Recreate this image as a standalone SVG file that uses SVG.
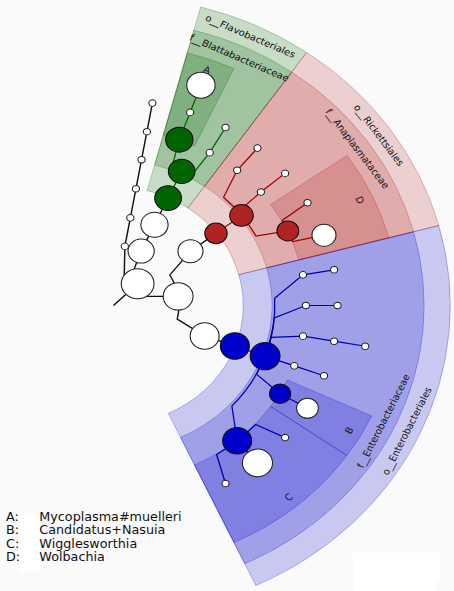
<svg xmlns="http://www.w3.org/2000/svg" width="454" height="591" viewBox="0 0 454 591">
<style>
.bg{fill:#fafafa}
.sg{fill:#006400;fill-opacity:.2;stroke:#006400;stroke-opacity:.3;stroke-width:.8}
.sr{fill:#b22222;fill-opacity:.2;stroke:#b22222;stroke-opacity:.35;stroke-width:.8}
.sb{fill:#0000cd;fill-opacity:.2;stroke:#0000cd;stroke-opacity:.3;stroke-width:.8}
.e{fill:none;stroke:#111;stroke-width:1.3}
.eg{fill:none;stroke:#006400;stroke-width:1.2}
.er{fill:none;stroke:#a00000;stroke-width:1.2}
.eb{fill:none;stroke:#0000b0;stroke-width:1.2}
.nw{fill:#fff;stroke:#222;stroke-width:1}
.ng{fill:#006400;stroke:#111;stroke-width:1}
.nr{fill:#b22222;stroke:#111;stroke-width:1}
.nb{fill:#0000cd;stroke:#111;stroke-width:1}
.lab{font-family:"DejaVu Sans",sans-serif;font-size:9.2px;fill:#111;text-anchor:middle}
.leg{font-family:"DejaVu Sans",sans-serif;font-size:11.7px;fill:#111}
</style>
<rect class="bg" x="0" y="0" width="454" height="591"/>
<path d="M352.7 552.7H440V581.7H436V591H352.7Z" fill="#fff"/>
<rect x="18" y="513" width="22" height="59" fill="#fff"/>
<g transform="matrix(1.09 0 0 1 113.5 305.5)">
<g id="shading">
<path class="sg" d="M79.98 -298.47A309 309 0 0 1 177.24 -253.12L68.26 -97.48A119 119 0 0 0 30.80 -114.95Z"/>
<path class="sr" d="M177.24 -253.12A309 309 0 0 1 298.47 -79.98L114.95 -30.80A119 119 0 0 0 68.26 -97.48Z"/>
<path class="sb" d="M298.47 -79.98A309 309 0 0 1 130.59 280.05L50.29 107.85A119 119 0 0 0 114.95 -30.80Z"/>
<path class="sg" d="M73.76 -275.29A285 285 0 0 1 163.47 -233.46L83.46 -119.19A145.5 145.5 0 0 0 37.66 -140.54Z"/>
<path class="sr" d="M163.47 -233.46A285 285 0 0 1 275.29 -73.76L140.54 -37.66A145.5 145.5 0 0 0 83.46 -119.19Z"/>
<path class="sb" d="M275.29 -73.76A285 285 0 0 1 120.45 258.30L61.49 131.87A145.5 145.5 0 0 0 140.54 -37.66Z"/>
<path class="sg" d="M67.68 -252.59A261.5 261.5 0 0 1 110.52 -237.00L74.38 -159.51A176 176 0 0 0 45.55 -170.00Z"/>
<path class="sr" d="M214.21 -149.99A261.5 261.5 0 0 1 252.59 -67.68L170.00 -45.55A176 176 0 0 0 144.17 -100.95Z"/>
<path class="sb" d="M237.00 110.52A261.5 261.5 0 0 1 214.21 149.99L144.17 100.95A176 176 0 0 0 159.51 74.38Z"/>
<path class="sb" d="M214.21 149.99A261.5 261.5 0 0 1 110.52 237.00L74.38 159.51A176 176 0 0 0 144.17 100.95Z"/>
</g>
<g id="labels">
<text class="lab" transform="translate(124.25 -266.46) rotate(25)">o__Flavobacteriales</text>
<text class="lab" transform="translate(114.11 -244.70) rotate(25)">f__Blattabacteriaceae</text>
<text class="lab" transform="translate(240.83 -168.63) rotate(55)">o__Rickettsiales</text>
<text class="lab" transform="translate(221.17 -154.87) rotate(55)">f__Anaplasmataceae</text>
<text class="lab" transform="translate(272.07 126.87) rotate(-65)">o__Enterobacteriales</text>
<text class="lab" transform="translate(250.59 116.85) rotate(-65)">f__Enterobacteriaceae</text>
<text class="lab" dominant-baseline="central" transform="translate(85.85 -235.86) rotate(20)">A</text>
<text class="lab" dominant-baseline="central" transform="translate(226.12 -105.44) rotate(65)">D</text>
<text class="lab" dominant-baseline="central" transform="translate(216.07 124.75) rotate(-60)">B</text>
<text class="lab" dominant-baseline="central" transform="translate(160.70 191.51) rotate(-40)">C</text>
</g>
<g id="connectors">
<path class="e" d="M0 0L22.15 -21.69"/>
<path class="e" d="M22.15 -21.69A31 31 0 0 0 9.84 -29.40L10.42 -59.09L35.69 -202.38"/>
<path class="e" d="M22.15 -21.69A31 31 0 0 0 15.5 -26.85L25.36 -54.38L50.08 -107.40"/>
<path class="e" d="M22.15 -21.69A31 31 0 0 1 29.60 -9.22L59.30 -9.13"/>
<path class="e" d="M59.30 -9.13A60 60 0 0 0 51.64 -30.54L70.61 -54.18L94.01 -72.14"/>
<path class="e" d="M59.30 -9.13A60 60 0 0 1 58.44 13.60L83.63 30.44L111.35 40.53"/>
<path class="eg" d="M50.08 -107.40L62.55 -134.13"/>
<path class="eg" d="M62.55 -134.13A148 148 0 0 0 53.52 -137.98L60.37 -165.86L70.29 -193.11L80.20 -220.36"/>
<path class="eg" d="M62.55 -134.13A148 148 0 0 1 71.30 -129.69L88.25 -152.85L102.75 -177.97"/>
<path class="er" d="M94.01 -72.14L117.42 -90.10"/>
<path class="er" d="M117.42 -90.10A148 148 0 0 0 100.94 -108.24L113.45 -135.21L132.09 -157.42"/>
<path class="er" d="M117.42 -90.10A148 148 0 0 0 114.36 -93.94L135.21 -113.45L157.42 -132.09"/>
<path class="er" d="M117.42 -90.10A148 148 0 0 1 130.68 -69.48L159.96 -74.59"/>
<path class="er" d="M159.96 -74.59A176.5 176.5 0 0 0 154.67 -85.03L177.97 -102.75"/>
<path class="er" d="M159.96 -74.59A176.5 176.5 0 0 1 164.55 -63.83L193.11 -70.29"/>
<path class="eb" d="M111.35 40.53L139.07 50.62"/>
<path class="eb" d="M139.07 50.62A148 148 0 0 0 147.82 -7.23L173.82 -30.65L202.38 -35.69"/>
<path class="eb" d="M139.07 50.62A148 148 0 0 0 147.48 12.38L176.5 0L205.5 0"/>
<path class="eb" d="M139.07 50.62A148 148 0 0 0 144.55 31.78L173.82 30.65L202.38 35.69L230.94 40.72"/>
<path class="eb" d="M139.07 50.62L165.86 60.37L193.11 70.29"/>
<path class="eb" d="M139.07 50.62A148 148 0 0 1 131.16 68.57L152.85 88.25L177.97 102.75"/>
<path class="eb" d="M139.07 50.62A148 148 0 0 1 108.59 100.56L113.45 135.21"/>
<path class="eb" d="M113.45 135.21A176.5 176.5 0 0 0 130.34 119.01L157.42 132.09"/>
<path class="eb" d="M113.45 135.21L132.09 157.42"/>
<path class="eb" d="M113.45 135.21A176.5 176.5 0 0 1 94.57 149.02L102.75 177.97"/>
</g>
<g id="n_root"><circle class="nw" cx="22.15" cy="-21.69" r="15"/></g>
<g id="n_chain">
<circle class="nw" cx="10.42" cy="-59.09" r="3.3"/>
<circle class="nw" cx="15.45" cy="-87.65" r="3.3"/>
<circle class="nw" cx="20.58" cy="-116.70" r="3.3"/>
<circle class="nw" cx="25.70" cy="-145.75" r="3.3"/>
<circle class="nw" cx="30.65" cy="-173.82" r="3.3"/>
<circle class="nw" cx="35.69" cy="-202.38" r="3.3"/>
</g>
<g id="n_a2"><circle class="nw" cx="25.36" cy="-54.38" r="12"/></g>
<g id="n_a1"><circle class="nw" cx="37.61" cy="-80.66" r="12.5"/></g>
<g id="n_a4"><circle class="nw" cx="59.30" cy="-9.13" r="13.7"/></g>
<g id="n_a5"><circle class="nw" cx="70.61" cy="-54.18" r="11.5"/></g>
<g id="n_a6"><circle class="nw" cx="83.63" cy="30.44" r="13.3"/></g>
<g id="n_g4"><circle class="ng" cx="50.08" cy="-107.40" r="12.3"/></g>
<g id="n_g5"><circle class="ng" cx="62.55" cy="-134.13" r="12.2"/></g>
<g id="n_g6"><circle class="ng" cx="60.37" cy="-165.86" r="12.5"/></g>
<g id="n_g7"><circle class="nw" cx="70.29" cy="-193.11" r="3.3"/></g>
<g id="n_A"><circle class="nw" cx="80.20" cy="-220.36" r="13"/></g>
<g id="n_g6b"><circle class="nw" cx="88.25" cy="-152.85" r="3.3"/></g>
<g id="n_g7b"><circle class="nw" cx="102.75" cy="-177.97" r="3.3"/></g>
<g id="n_r4"><circle class="nr" cx="94.01" cy="-72.14" r="10.3"/></g>
<g id="n_r5"><circle class="nr" cx="117.42" cy="-90.10" r="10.8"/></g>
<g id="n_r6a"><circle class="nw" cx="113.45" cy="-135.21" r="3.3"/></g>
<g id="n_r7a"><circle class="nw" cx="132.09" cy="-157.42" r="3.3"/></g>
<g id="n_r6b"><circle class="nw" cx="135.21" cy="-113.45" r="3.3"/></g>
<g id="n_r7b"><circle class="nw" cx="157.42" cy="-132.09" r="3.3"/></g>
<g id="n_r6"><circle class="nr" cx="159.96" cy="-74.59" r="10"/></g>
<g id="n_r7c"><circle class="nw" cx="177.97" cy="-102.75" r="3.3"/></g>
<g id="n_D"><circle class="nw" cx="193.11" cy="-70.29" r="11"/></g>
<g id="n_b4"><circle class="nb" cx="111.35" cy="40.53" r="13.3"/></g>
<g id="n_b5"><circle class="nb" cx="139.07" cy="50.62" r="13.7"/></g>
<g id="n_b6m10"><circle class="nw" cx="173.82" cy="-30.65" r="3.3"/></g>
<g id="n_b7m10"><circle class="nw" cx="202.38" cy="-35.69" r="3.3"/></g>
<g id="n_b6p0"><circle class="nw" cx="176.5" cy="0" r="3.3"/></g>
<g id="n_b7p0"><circle class="nw" cx="205.5" cy="0" r="3.3"/></g>
<g id="n_b6p10"><circle class="nw" cx="173.82" cy="30.65" r="3.3"/></g>
<g id="n_b7p10"><circle class="nw" cx="202.38" cy="35.69" r="3.3"/></g>
<g id="n_b8p10"><circle class="nw" cx="230.94" cy="40.72" r="3.3"/></g>
<g id="n_b6p20"><circle class="nw" cx="165.86" cy="60.37" r="3.3"/></g>
<g id="n_b7p20"><circle class="nw" cx="193.11" cy="70.29" r="3.3"/></g>
<g id="n_b6a"><circle class="nb" cx="152.85" cy="88.25" r="9.7"/></g>
<g id="n_B"><circle class="nw" cx="177.97" cy="102.75" r="10"/></g>
<g id="n_b6b"><circle class="nb" cx="113.45" cy="135.21" r="13.3"/></g>
<g id="n_b7p40"><circle class="nw" cx="157.42" cy="132.09" r="3.3"/></g>
<g id="n_C"><circle class="nw" cx="132.09" cy="157.42" r="13.8"/></g>
<g id="n_b7p60"><circle class="nw" cx="102.75" cy="177.97" r="3.3"/></g>
</g>
<g id="legend" transform="matrix(1.09 0 0 1 0 0)">
<text class="leg" x="5.5" y="521">A:</text><text class="leg" x="36.1" y="521">Mycoplasma#muelleri</text>
<text class="leg" x="5.5" y="534.3">B:</text><text class="leg" x="36.1" y="534.3">Candidatus+Nasuia</text>
<text class="leg" x="5.5" y="547.7">C:</text><text class="leg" x="36.1" y="547.7">Wigglesworthia</text>
<text class="leg" x="5.5" y="561">D:</text><text class="leg" x="36.1" y="561">Wolbachia</text>
</g>
</svg>
